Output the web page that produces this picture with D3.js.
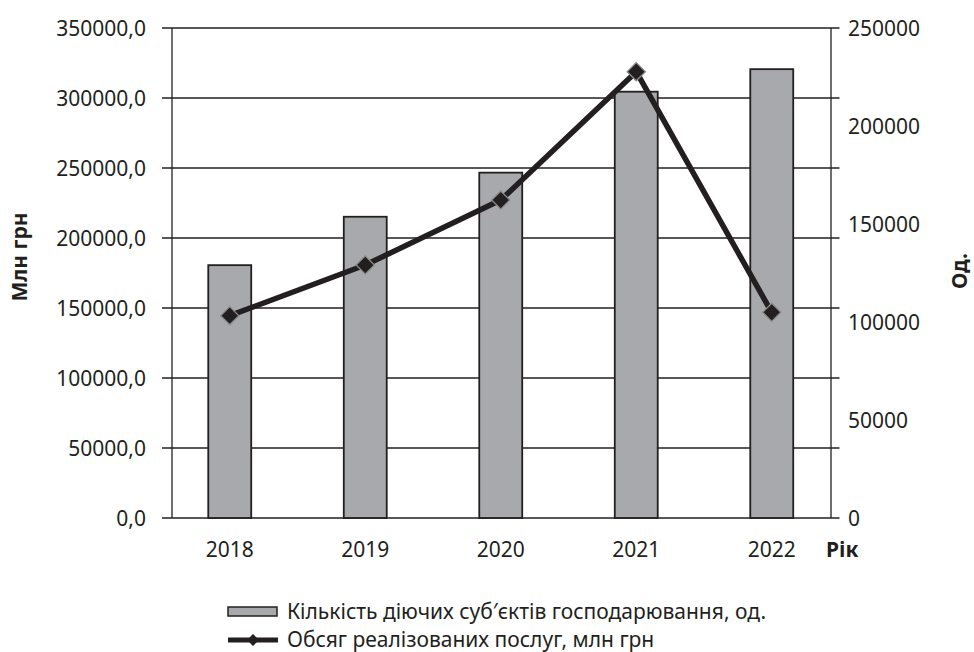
<!DOCTYPE html>
<html><head><meta charset="utf-8">
<script src="https://cdn.jsdelivr.net/npm/d3@7"></script>
<style>
body{margin:0;background:#fff;}
svg text{font-family:"Noto Sans","Open Sans",sans-serif;fill:#231f20;}
</style></head><body>
<svg id="chart" width="974" height="652"></svg>
<script>
const years = ["2018","2019","2020","2021","2022"];
const entities = [129000, 153700, 176200, 217500, 229000];   // bars, right axis (од.)
const volume = [144500, 180700, 227100, 318800, 146900];     // line, left axis (млн грн)
const leftTicks = [0,50000,100000,150000,200000,250000,300000,350000];
const rightTicks = [0,50000,100000,150000,200000,250000];
const legendLabels = ["Кількість діючих суб\u2032єктів господарювання, од.","Обсяг реалізованих послуг, млн грн"];

const svg = d3.select("#chart");
const ink = "#231f20", barFill = "#a7a9ac";
const plotTop = 28, plotBottom = 518, axL = 172, axR = 831;
const fs = 21;

const x = d3.scaleBand().domain(years).range([162, 839.5]).paddingInner(0.683).paddingOuter(0.3415);
const yL = d3.scaleLinear().domain([0,350000]).range([plotBottom, plotTop]);
const yR = d3.scaleLinear().domain([0,250000]).range([plotBottom, plotTop]);
const fmtL = d => d3.format(".1f")(d).replace(".", ",");

// grid lines
svg.append("g").selectAll("line").data(leftTicks).join("line")
  .attr("x1",162).attr("x2",839.5)
  .attr("y1",d=>yL(d)).attr("y2",d=>yL(d))
  .attr("stroke",ink).attr("stroke-width",1.3);

// axes lines
svg.append("line").attr("x1",axL).attr("x2",axL).attr("y1",plotTop).attr("y2",plotBottom).attr("stroke",ink).attr("stroke-width",1.3);
svg.append("line").attr("x1",axR).attr("x2",axR).attr("y1",plotTop).attr("y2",plotBottom).attr("stroke",ink).attr("stroke-width",1.3);

// left labels
svg.append("g").selectAll("text").data(leftTicks).join("text")
  .attr("x",146).attr("y",d=>yL(d)).attr("dy","0.36em")
  .attr("text-anchor","end").attr("font-size",fs).text(fmtL);

// right labels
svg.append("g").selectAll("text").data(rightTicks).join("text")
  .attr("x",848).attr("y",d=>yR(d)).attr("dy","0.36em")
  .attr("text-anchor","start").attr("font-size",fs).text(d=>String(d));

// bars
svg.append("g").selectAll("rect").data(years).join("rect")
  .attr("x",d=>x(d)).attr("width",x.bandwidth())
  .attr("y",(d,i)=>yR(entities[i])).attr("height",(d,i)=>plotBottom-yR(entities[i]))
  .attr("fill",barFill).attr("stroke",ink).attr("stroke-width",1.8);

// line
const cx = d => x(d)+x.bandwidth()/2;
svg.append("path").datum(years)
  .attr("d", d3.line().x(cx).y((d,i)=>yL(volume[i])))
  .attr("fill","none").attr("stroke",ink).attr("stroke-width",5.5).attr("stroke-linejoin","round");

const diamond = d3.symbol().type(d3.symbolSquare).size(165);
svg.append("g").selectAll("path").data(years).join("path")
  .attr("d",diamond())
  .attr("transform",(d,i)=>`translate(${cx(d)},${yL(volume[i])}) rotate(45)`)
  .attr("fill",ink).attr("stroke","#8c8c8c").attr("stroke-width",1.3);

// x labels
svg.append("g").selectAll("text").data(years).join("text")
  .attr("x",cx).attr("y",549).attr("dy","0.36em")
  .attr("text-anchor","middle").attr("font-size",fs).text(d=>d);

svg.append("text").attr("x",826).attr("y",549).attr("dy","0.36em")
  .attr("font-size",fs).attr("font-weight","bold").text("Рік");

// axis titles
svg.append("text").attr("transform","translate(20,257) rotate(-90)")
  .attr("text-anchor","middle").attr("dy","0.35em")
  .attr("font-size",fs).attr("font-weight","bold").text("Млн грн");
svg.append("text").attr("transform","translate(960,271) rotate(-90)")
  .attr("text-anchor","middle").attr("dy","0.35em")
  .attr("font-size",fs).attr("font-weight","bold").text("Од.");

// legend
const lg = svg.append("g");
lg.append("rect").attr("x",228).attr("y",607).attr("width",49).attr("height",9)
  .attr("fill",barFill).attr("stroke",ink).attr("stroke-width",1.5);
lg.append("text").attr("x",287).attr("y",611).attr("dy","0.36em")
  .attr("font-size",fs).text(legendLabels[0]);
lg.append("line").attr("x1",228).attr("x2",278).attr("y1",640).attr("y2",640)
  .attr("stroke",ink).attr("stroke-width",5);
lg.append("path").attr("d",d3.symbol().type(d3.symbolSquare).size(70)())
  .attr("transform","translate(253,640) rotate(45)").attr("fill",ink);
lg.append("text").attr("x",287).attr("y",639).attr("dy","0.36em")
  .attr("font-size",fs).text(legendLabels[1]);
</script>
</body></html>
